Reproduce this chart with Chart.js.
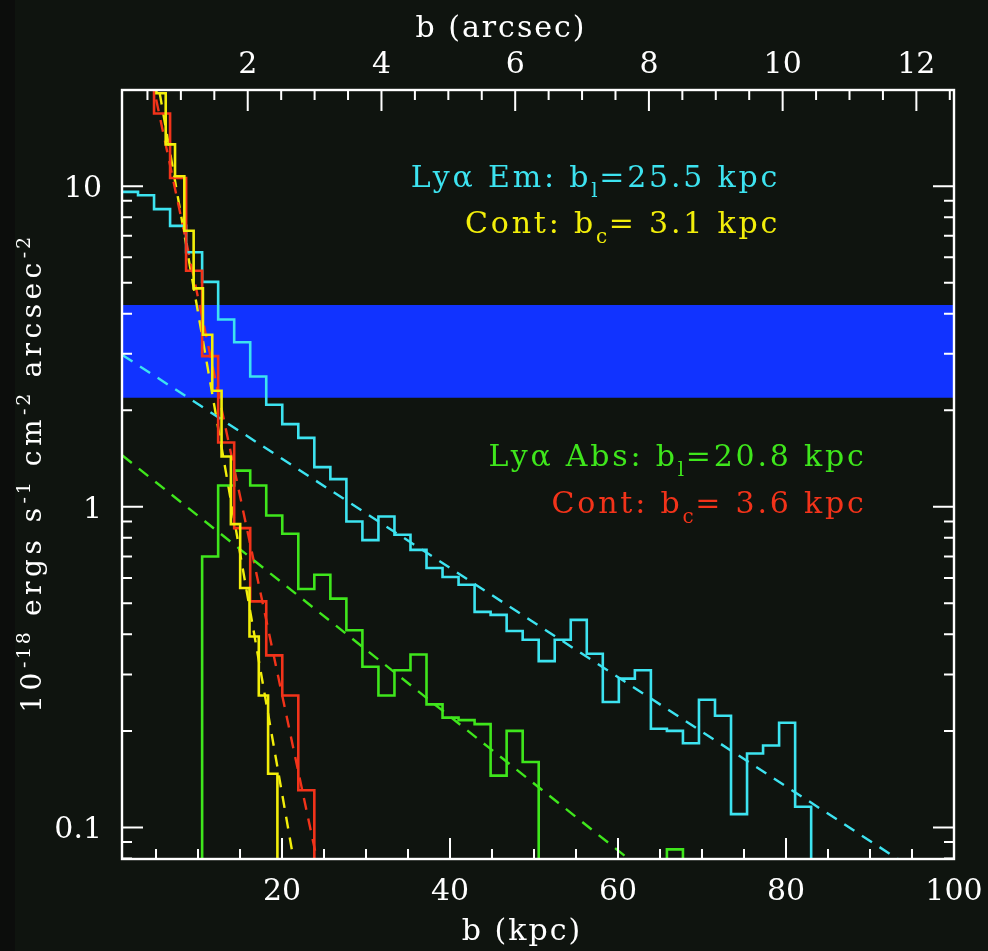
<!DOCTYPE html>
<html>
<head>
<meta charset="utf-8">
<script src="https://cdn.jsdelivr.net/npm/chart.js@4/dist/chart.umd.min.js"></script>
<style>
  html, body { margin: 0; padding: 0; background: #0f140f; }
  canvas { display: block; }
</style>
</head>
<body>
<canvas id="profile" width="988" height="951"></canvas>
<script>
// ---- axes -------------------------------------------------------------
const X_MIN = 0.95, X_MAX = 100;          // impact parameter b (kpc)
const Y_MIN = 0.0797, Y_MAX = 19.95;      // surface brightness
const KPC_PER_ARCSEC = 7.96;

const kpcTickLabels = [20, 40, 60, 80, 100];
const arcsecTickLabels = [2, 4, 6, 8, 10, 12];
const fluxTickLabels = [0.1, 1, 10];

// ---- radial profiles (histograms) --------------------------------------
const EMPTY = 0.01;     // no flux in the annulus
const OFFSCALE = 40;    // brighter than the top of the plot

// coarse annuli (Lya emission, Lya absorber, red continuum)
const coarseStart = 0.95;
const coarseWidth = 1.908;
// fine annuli (yellow continuum)
const fineStart = 3.939;
const fineWidth = 1.108;

const lyaEmission = [9.60, 9.37, 8.48, 7.52, 6.22, 5.03, 3.84, 3.26, 2.55, 2.08,
  1.81, 1.64, 1.33, 1.22, 0.90, 0.787, 0.933, 0.818, 0.734, 0.644,
  0.604, 0.571, 0.47, 0.46, 0.41, 0.385, 0.33, 0.385, 0.444, 0.348,
  0.246, 0.291, 0.309, 0.203, 0.200, 0.183, 0.250, 0.223, 0.110, 0.170,
  0.180, 0.212, 0.116, EMPTY];

const lyaAbsorber = [EMPTY, EMPTY, EMPTY, EMPTY, EMPTY, 0.700, 1.165, 1.297, 1.165, 0.939,
  0.824, 0.554, 0.614, 0.517, 0.412, 0.317, 0.258, 0.309, 0.346, 0.242,
  0.220, 0.216, 0.210, 0.145, 0.200, 0.160, EMPTY, EMPTY, EMPTY, EMPTY,
  EMPTY, EMPTY, EMPTY, EMPTY, 0.0854, EMPTY];

const contRed = [OFFSCALE, OFFSCALE, 16.85, 10.6, 5.45, 2.95, 1.586, 0.858, 0.507, 0.344,
  0.258, 0.1306, EMPTY];

const contYellow = [OFFSCALE, 19.5, 13.5, 10.74, 7.26, 4.80, 3.44, 2.30, 1.435, 0.883,
  0.558, 0.394, 0.258, 0.147, EMPTY];

// ---- exponential fits (end points, straight in log space) ---------------
const emFitB = [1.0, 100];      const emFitI = [2.975, 0.0613];
const absFitB = [1.0, 70];      const absFitI = [1.445, 0.0524];
const yelFitB = [5.0, 22.0];    const yelFitI = [22.7, 0.064];
const redFitB = [4.5, 24.5];    const redFitI = [21.6, 0.0719];

// ---- shaded band ------------------------------------------------------
const bandLow = 2.19, bandHigh = 4.26;

// ---- labels -----------------------------------------------------------
const notes = [
  { parts: [['Ly\u03b1 Em: b', ''], ['l', 'sub'], ['=25.5 kpc', '']], color: '#3de3f0', bRight: 79.3, base: 9.91 },
  { parts: [['Cont: b', ''], ['c', 'sub'], ['= 3.1 kpc', '']], color: '#f2ee0a', bRight: 79.3, base: 7.155 },
  { parts: [['Ly\u03b1 Abs: b', ''], ['l', 'sub'], ['=20.8 kpc', '']], color: '#3fe61c', bRight: 89.6, base: 1.339 },
  { parts: [['Cont: b', ''], ['c', 'sub'], ['= 3.6 kpc', '']], color: '#f2331a', bRight: 89.6, base: 0.957 }
];
const yTitle = [['10', ''], ['-18', 'sup'], [' ergs s', ''], ['-1', 'sup'], [' cm', ''], ['-2', 'sup'], [' arcsec', ''], ['-2', 'sup']];

// ---- helpers ----------------------------------------------------------
function histogram(start, width, values) {
  return values.map((v, i) => ({ x: start + i * width, y: v }));
}
function segment(bs, is) {
  return bs.map((b, i) => ({ x: b, y: is[i] }));
}

const FONT = '"DejaVu Serif", "Liberation Serif", serif';

function richWidth(ctx, parts, size, subSize, spacing) {
  let w = 0;
  for (const [t, kind] of parts) {
    ctx.font = (kind ? subSize : size) + 'px ' + FONT;
    ctx.letterSpacing = (kind ? spacing * 0.6 : spacing) + 'px';
    w += ctx.measureText(t).width;
  }
  return w;
}
function drawRich(ctx, parts, x, y, align, size, subSize, spacing, subDrop, supRise) {
  const w = richWidth(ctx, parts, size, subSize, spacing);
  let cx = align === 'right' ? x - w : align === 'center' ? x - w / 2 : x;
  ctx.textAlign = 'left';
  ctx.textBaseline = 'alphabetic';
  for (const [t, kind] of parts) {
    ctx.font = (kind ? subSize : size) + 'px ' + FONT;
    ctx.letterSpacing = (kind ? spacing * 0.6 : spacing) + 'px';
    const dy = kind === 'sub' ? subDrop : kind === 'sup' ? -supRise : 0;
    ctx.fillText(t, cx, y + dy);
    cx += ctx.measureText(t).width;
  }
  ctx.letterSpacing = '0px';
}

// frame, tick marks, labels and annotations
const framePlugin = {
  id: 'frame',
  beforeDraw(chart) {
    const ctx = chart.ctx;
    ctx.save();
    ctx.fillStyle = '#0f140f';
    ctx.fillRect(0, 0, chart.width, chart.height);
    ctx.fillStyle = '#0c0d0c';
    ctx.fillRect(0, 0, 15, chart.height);
    ctx.restore();
  },
  afterDatasetsDraw(chart) {
    const ctx = chart.ctx;
    const a = chart.chartArea;
    const xs = chart.scales.x, xt = chart.scales.xTop, ys = chart.scales.y;
    ctx.save();
    ctx.strokeStyle = '#ffffff';
    ctx.fillStyle = '#ffffff';
    ctx.lineWidth = 2.4;
    ctx.strokeRect(a.left, a.top, a.right - a.left, a.bottom - a.top);

    ctx.lineWidth = 2;
    ctx.beginPath();
    // bottom: minor every 5 kpc, major every 20 kpc
    for (let v = 5; v <= X_MAX; v += 5) {
      const px = xs.getPixelForValue(v);
      if (px < a.left || px > a.right) continue;
      const len = v % 20 === 0 ? 21 : 10;
      ctx.moveTo(px, a.bottom); ctx.lineTo(px, a.bottom - len);
    }
    // top: minor every 0.5 arcsec, major every 2 arcsec
    for (let v = 0.5; v <= xt.max; v += 0.5) {
      const px = xt.getPixelForValue(v);
      if (px < a.left || px > a.right) continue;
      const len = Math.abs(v % 2) < 1e-9 ? 21 : 10;
      ctx.moveTo(px, a.top); ctx.lineTo(px, a.top + len);
    }
    // left and right: logarithmic
    for (let d = 0.01; d <= 10; d *= 10) {
      for (let m = 1; m <= 9; m++) {
        const v = m * d;
        if (v < Y_MIN || v > Y_MAX) continue;
        const py = ys.getPixelForValue(v);
        const len = m === 1 ? 21 : 10;
        ctx.moveTo(a.left, py); ctx.lineTo(a.left + len, py);
        ctx.moveTo(a.right, py); ctx.lineTo(a.right - len, py);
      }
    }
    ctx.stroke();

    // tick labels
    ctx.font = '30px ' + FONT;
    ctx.textAlign = 'center';
    ctx.textBaseline = 'alphabetic';
    for (const v of kpcTickLabels) ctx.fillText(String(v), xs.getPixelForValue(v), a.bottom + 41);
    for (const v of arcsecTickLabels) ctx.fillText(String(v), xt.getPixelForValue(v), a.top - 17);
    ctx.textAlign = 'right';
    for (const v of fluxTickLabels) ctx.fillText(String(v), a.left - 20, ys.getPixelForValue(v) + 11);

    // axis titles
    drawRich(ctx, [['b (kpc)', '']], 522, a.bottom + 81, 'center', 30, 20, 2, 0, 0);
    drawRich(ctx, [['b (arcsec)', '']], 501, 37, 'center', 30, 20, 2, 0, 0);
    ctx.save();
    ctx.translate(41, (a.top + a.bottom) / 2 - 1);
    ctx.rotate(-Math.PI / 2);
    drawRich(ctx, yTitle, 0, 0, 'center', 28, 19, 4.5, 0, 11);
    ctx.restore();

    // annotations
    for (const n of notes) {
      ctx.fillStyle = n.color;
      drawRich(ctx, n.parts, xs.getPixelForValue(n.bRight), ys.getPixelForValue(n.base),
               'right', 30, 20, 2.8, 10, 0);
    }
    ctx.restore();
  }
};

// each point is the left edge of an annulus; the value holds until the next edge
const hist = (data, color, order) => ({
  data, borderColor: color, borderWidth: 2.6, stepped: 'before',
  pointRadius: 0, fill: false, order
});
const fit = (data, color) => ({
  data, borderColor: color, borderWidth: 2.4, borderDash: [12, 9],
  pointRadius: 0, fill: false, order: 5
});

new Chart(document.getElementById('profile').getContext('2d'), {
  type: 'line',
  data: {
    datasets: [
      {
        data: [{ x: X_MIN, y: bandHigh }, { x: X_MAX, y: bandHigh }],
        borderWidth: 0, pointRadius: 0, backgroundColor: '#1133ff',
        fill: { value: bandLow }, order: 10
      },
      fit(segment(emFitB, emFitI), '#3de3f0'),
      fit(segment(absFitB, absFitI), '#3fe61c'),
      fit(segment(redFitB, redFitI), '#f2331a'),
      fit(segment(yelFitB, yelFitI), '#f2ee0a'),
      hist(histogram(coarseStart, coarseWidth, lyaAbsorber), '#3fe61c', 4),
      hist(histogram(coarseStart, coarseWidth, lyaEmission), '#3de3f0', 3),
      hist(histogram(coarseStart, coarseWidth, contRed), '#f2331a', 2),
      hist(histogram(fineStart, fineWidth, contYellow), '#f2ee0a', 1)
    ]
  },
  options: {
    responsive: false,
    animation: false,
    devicePixelRatio: 1,
    layout: { padding: { right: 34 } },
    plugins: { legend: { display: false }, tooltip: { enabled: false } },
    elements: { line: { tension: 0 } },
    scales: {
      x: {
        type: 'linear', position: 'bottom', min: X_MIN, max: X_MAX,
        grid: { display: false }, border: { display: false }, ticks: { display: false },
        afterFit(s) { s.height = 92; }
      },
      xTop: {
        type: 'linear', position: 'top', min: X_MIN / KPC_PER_ARCSEC, max: X_MAX / KPC_PER_ARCSEC,
        grid: { display: false }, border: { display: false }, ticks: { display: false },
        afterFit(s) { s.height = 90; }
      },
      y: {
        type: 'logarithmic', position: 'left', min: Y_MIN, max: Y_MAX,
        grid: { display: false }, border: { display: false }, ticks: { display: false },
        afterFit(s) { s.width = 122; }
      }
    }
  },
  plugins: [framePlugin]
});
</script>
</body>
</html>
